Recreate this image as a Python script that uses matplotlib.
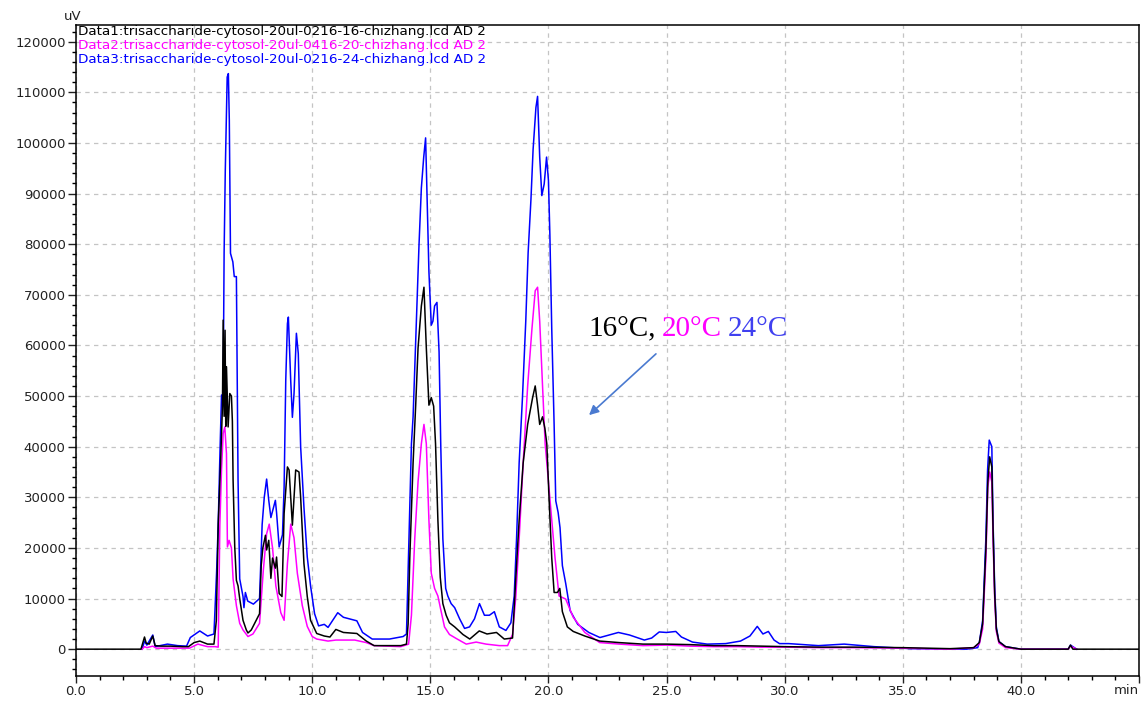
import numpy as np
import matplotlib
matplotlib.use("Agg")
import matplotlib.pyplot as plt
from matplotlib.ticker import MultipleLocator

# chromatogram traces: time (min), signal (uV)
t_16 = [0, 2.75, 2.9, 2.97, 3.1, 3.25, 3.35, 3.6, 4.0, 4.5, 4.76, 5.0, 5.24, 5.57, 5.84,
        5.94, 6.02, 6.12, 6.2, 6.23, 6.27, 6.31, 6.34, 6.37, 6.44, 6.51, 6.58, 6.62, 6.65,
        6.72, 6.79, 6.86, 6.93, 7.07, 7.21, 7.28, 7.42, 7.63, 7.77, 7.84, 7.91, 8.02, 8.07,
        8.16, 8.25, 8.32, 8.44, 8.49, 8.6, 8.72, 8.81, 8.95, 9.02, 9.09, 9.16, 9.3, 9.44,
        9.51, 9.58, 9.65, 9.79, 9.93, 10.19, 10.51, 10.75, 11.0, 11.32, 11.89, 12.29, 12.62,
        13.0, 13.75, 13.99, 14.06, 14.13, 14.27, 14.38, 14.48, 14.62, 14.73, 14.83, 14.94,
        15.04, 15.14, 15.22, 15.32, 15.42, 15.53, 15.67, 15.81, 16.03, 16.38, 16.67, 17.07,
        17.4, 17.8, 18.13, 18.48, 18.62, 18.76, 18.93, 19.12, 19.33, 19.44, 19.54, 19.63,
        19.75, 19.85, 19.93, 20.03, 20.14, 20.24, 20.38, 20.48, 20.59, 20.8, 21.05, 21.54,
        22.17, 23.0, 24.0, 25.0, 26.0, 27.0, 28.0, 29.0, 30.0, 31.5, 33.0, 35.0, 37.0, 38.0,
        38.24, 38.38, 38.52, 38.6, 38.68, 38.77, 38.82, 38.89, 38.96, 39.07, 39.35, 40.0,
        42.0, 42.1, 42.2, 45.0]
v_16 = [0, 0, 2400, 1200, 1000, 2600, 700, 600, 600, 500, 500, 1300, 1600, 1000, 1000,
        5600, 24700, 36700, 48000, 65000, 46000, 63000, 44000, 55800, 43900, 50500, 50000, 45000, 33400,
        20200, 13600, 12500, 10000, 5700, 3800, 3200, 3800, 5700, 7000, 16500, 20000, 22500, 19600,
        21500, 14000, 18000, 16000, 18200, 11000, 10400, 26800, 36000, 35400, 30000, 24500, 35400, 35000,
        30000, 23500, 16900, 10400, 5700, 3100, 2600, 2400, 3900, 3300, 3100, 1600, 700,
        700, 700, 1000, 5000, 18000, 36800, 48200, 59500, 67800, 71500, 59500, 48200,
        49700, 48000, 40600, 25500, 14200, 9000, 6700, 5200, 4400, 2900, 2000, 3600,
        3000, 3300, 2000, 2200, 14200, 25500, 36800, 44400, 49700, 52000, 48200, 44400,
        45900, 43600, 40600, 29300, 18000, 11200, 11200, 12000, 7400, 4400, 3500, 2600,
        1600, 1300, 1000, 1000, 900, 700, 700, 600, 500, 400, 400, 300, 100, 300,
        1300, 5000, 20000, 33000, 38000, 36000, 24000, 11000, 4000, 1500, 500, 0,
        0, 800, 0, 0]

t_20 = [2.8, 2.9, 3.0, 3.25, 3.4, 4.0, 4.8, 5.16, 5.4, 5.57, 5.89, 6.02, 6.09, 6.16, 6.23,
        6.3, 6.37, 6.41, 6.48, 6.58, 6.65, 6.79, 6.93, 7.07, 7.28, 7.49, 7.77, 7.93, 8.07,
        8.18, 8.32, 8.46, 8.67, 8.81, 8.95, 9.09, 9.23, 9.37, 9.58, 9.79, 10.0, 10.19, 10.67,
        11.0, 11.8, 12.29, 12.62, 13.75, 14.08, 14.2, 14.34, 14.48, 14.62, 14.73, 14.83,
        14.94, 15.04, 15.18, 15.32, 15.46, 15.6, 15.81, 16.1, 16.52, 16.94, 17.36, 17.92,
        18.27, 18.48, 18.62, 18.76, 18.93, 19.12, 19.3, 19.44, 19.54, 19.63, 19.75, 19.86,
        20.0, 20.14, 20.28, 20.45, 20.73, 21.05, 21.54, 22.17, 23.0, 24.0, 25.0, 26.0, 27.0,
        28.0, 29.0, 30.0, 31.5, 33.0, 35.0, 37.0, 38.0, 38.24, 38.38, 38.52, 38.6, 38.68,
        38.77, 38.82, 38.89, 38.96, 39.07, 39.35, 40.0, 42.0, 42.1, 42.36]
v_20 = [0, 500, 300, 600, 200, 200, 200, 1000, 700, 500, 500, 400, 24600, 35400, 42600,
        43900, 38600, 20200, 21500, 20000, 13900, 8600, 5100, 3800, 2500, 3000, 5100, 15600, 22800,
        24700, 20000, 12500, 7200, 5700, 16900, 24700, 22000, 15000, 8600, 4500, 2500, 2000, 1600,
        1800, 1800, 1300, 700, 500, 1000, 6700, 21800, 33100, 40600, 44400, 40600,
        25500, 15000, 12000, 10500, 7400, 4400, 2900, 2100, 1000, 1400, 1000, 700,
        700, 2900, 10500, 21800, 36800, 52000, 63200, 70800, 71500, 64800, 52000, 40600,
        33100, 25500, 18000, 10500, 9900, 6300, 3300, 1300, 1000, 700, 800, 600, 500,
        500, 400, 400, 300, 300, 200, 0, 300, 1000, 4000, 18000, 32000, 35000,
        33000, 22000, 10000, 3500, 1200, 300, 0, 0, 600, 0]

t_24 = [2.8, 2.9, 3.0, 3.25, 3.35, 3.87, 4.3, 4.68, 4.84, 5.24, 5.57, 5.84, 5.95, 6.02,
        6.09, 6.16, 6.23, 6.27, 6.32, 6.4, 6.45, 6.49, 6.54, 6.58, 6.64, 6.7, 6.79, 6.86,
        6.93, 7.07, 7.11, 7.17, 7.27, 7.51, 7.77, 7.88, 7.97, 8.07, 8.16, 8.25, 8.44, 8.49,
        8.6, 8.74, 8.81, 8.88, 8.95, 8.99, 9.09, 9.16, 9.23, 9.33, 9.41, 9.51, 9.65, 9.79,
        9.93, 10.1, 10.27, 10.51, 10.67, 11.08, 11.32, 11.65, 11.89, 12.13, 12.54, 13.27,
        13.85, 13.99, 14.06, 14.2, 14.27, 14.41, 14.52, 14.62, 14.72, 14.8, 14.86, 14.94,
        15.04, 15.11, 15.18, 15.28, 15.37, 15.44, 15.53, 15.65, 15.74, 15.88, 16.03, 16.24,
        16.45, 16.66, 16.87, 17.08, 17.29, 17.5, 17.71, 17.92, 18.2, 18.41, 18.55, 18.65,
        18.76, 18.9, 19.04, 19.14, 19.26, 19.35, 19.47, 19.54, 19.63, 19.72, 19.82, 19.92,
        20.0, 20.06, 20.14, 20.24, 20.31, 20.41, 20.49, 20.59, 20.73, 20.92, 21.24, 21.71,
        22.18, 22.81, 22.96, 23.43, 24.06, 24.37, 24.69, 25.0, 25.39, 25.63, 26.1, 26.72,
        27.5, 28.13, 28.53, 28.84, 29.08, 29.31, 29.55, 29.78, 30.17, 31.43, 32.52, 33.78,
        35.34, 37.7, 38.17, 38.24, 38.38, 38.52, 38.59, 38.66, 38.77, 38.82, 38.89, 38.96,
        39.07, 39.35, 40.0, 42.0, 42.1, 42.36]
v_24 = [0, 1600, 800, 2800, 500, 1000, 700, 600, 2300, 3600, 2600, 3000, 15000, 24600,
        38000, 50200, 50200, 78300, 94600, 113000, 113700, 104500, 78200, 77500, 76500, 73600, 73600, 33400,
        13900, 10400, 8200, 11200, 9500, 8900, 10000, 24600, 30000, 33600, 29400, 26000, 29400, 27000,
        20200, 22600, 32000, 53200, 64300, 65600, 53000, 45800, 50500, 62400, 58400, 40000, 28000, 18200,
        12500, 7000, 4600, 4900, 4300, 7200, 6300, 5900, 5600, 3300, 2000, 2000,
        2500, 3000, 15700, 40600, 45900, 64800, 79800, 91100, 97200, 101000, 89600, 74600,
        64000, 64800, 67800, 68500, 58700, 40600, 21800, 12000, 10500, 9000, 8200, 6000,
        4100, 4400, 6000, 9000, 6700, 6700, 7400, 4400, 3700, 5200, 10500, 21800,
        36800, 49700, 64800, 78300, 88900, 98700, 107000, 109200, 97200, 89600, 91900, 97200,
        92600, 82000, 63200, 44400, 29300, 27000, 24000, 16500, 13000, 7600, 4900, 3300,
        2300, 3100, 3300, 2800, 1800, 2200, 3400, 3300, 3500, 2400, 1400, 1000,
        1100, 1600, 2600, 4500, 3000, 3500, 1800, 1100, 1100, 700, 1000, 500,
        100, 0, 300, 1300, 5600, 22200, 35400, 41300, 40000, 25500, 12300, 4400,
        1500, 500, 0, 0, 800, 0]

names = ["Data1:trisaccharide-cytosol-20ul-0216-16-chizhang.lcd AD 2",
         "Data2:trisaccharide-cytosol-20ul-0416-20-chizhang.lcd AD 2",
         "Data3:trisaccharide-cytosol-20ul-0216-24-chizhang.lcd AD 2"]
colors = ["#000000", "#ff00ff", "#0000ff"]

W, H = 1141, 702
fig = plt.figure(figsize=(W / 100, H / 100), dpi=100)
ax = fig.add_axes([76 / W, 26 / H, 1063 / W, 651 / H])

# blue first, black on top
ax.plot(t_24, v_24, color=colors[2], lw=1.1)
ax.plot(t_20, v_20, color=colors[1], lw=1.1)
ax.plot(t_16, v_16, color=colors[0], lw=1.1)

ax.set_xlim(0, 45)
ax.set_ylim(-5300, 123300)
ax.xaxis.set_minor_locator(MultipleLocator(1))
ax.yaxis.set_major_locator(MultipleLocator(10000))
ax.yaxis.set_minor_locator(MultipleLocator(2000))
ax.set_xticks(np.arange(0, 45.1, 5))
ax.set_xticklabels(["%.1f" % x for x in np.arange(0, 41, 5)] + [""])
ax.tick_params(which="major", length=5.5, width=1, labelsize=9.5, colors="#222222", pad=2)
ax.tick_params(which="minor", length=3, width=1)
ax.tick_params(axis="x", which="major", length=5, pad=1.5)
ax.grid(True, which="major", color="#c4c4c4", ls=(0, (3.5, 3.5)), lw=0.9)
for s in ax.spines.values():
    s.set_linewidth(1.1)

fig.text(1139 / W, 1 - 691 / H, "min", ha="right", va="center", fontsize=9.5, color="#222222")
fig.text(73 / W, 1 - 16 / H, "uV", ha="center", va="center", fontsize=9.5, color="#222222")

for i, (n, c) in enumerate(zip(names, colors)):
    fig.text(78 / W, 1 - (32 + 13.5 * i) / H, n, color=c, fontsize=9.7, va="center", ha="left")

# annotation
base = 1 - 336 / H
serif = "Liberation Serif"
fig.text(588 / W, base, "16°C,", color="black", fontsize=21, family=serif, va="baseline")
fig.text(662 / W, base, "20°C", color="#ff00ff", fontsize=21, family=serif, va="baseline")
fig.text(728 / W, base, "24°C", color="#4040f0", fontsize=21, family=serif, va="baseline")
ax.annotate("", xy=(587, H - 417), xycoords="figure pixels",
            xytext=(658, H - 352), textcoords="figure pixels",
            arrowprops=dict(arrowstyle="-|>", color="#4a7ad0", lw=1.2, mutation_scale=14))

fig.savefig("out.png", dpi=100)
